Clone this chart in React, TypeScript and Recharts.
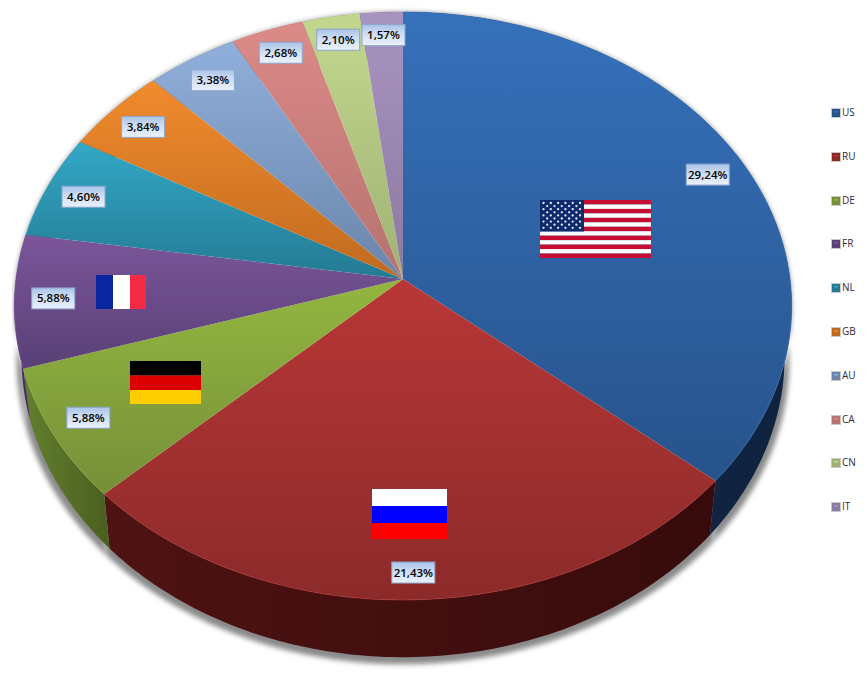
import React from 'react';
import { PieChart, Pie, Legend } from 'recharts';

const countries = ['US', 'RU', 'DE', 'FR', 'NL', 'GB', 'AU', 'CA', 'CN', 'IT'];
const shares = [29.24, 21.43, 5.88, 5.88, 4.6, 3.84, 3.38, 2.68, 2.1, 1.57];

const topLight = ['#3671bb', '#b93737', '#93b740', '#7b569a', '#33a8c6', '#f18b2d', '#90afdb', '#dc8a87', '#c3d88e', '#a994c1'];
const topDark = ['#27538b', '#8c2a2a', '#768f38', '#594076', '#247a93', '#c06a20', '#6a85aa', '#b57270', '#9fb274', '#8b7a9f'];
const sideLight = ['#13294a', '#4f1313', '#62802e', '#4f3270', '#1c5f73', '#8a4b14', '#4b5f7c', '#834f4e', '#6f7c50', '#5f5270'];
const sideDark = ['#0f2340', '#370b0b', '#4a5f20', '#3f2859', '#164d5d', '#6f3c10', '#3c4c63', '#693f3e', '#596340', '#4c4259'];

const chartData = countries.map((name, i) => ({ name, value: shares[i] }));

// the pie is seen in perspective, so sectors go through this instead of a plain circle
const K = 0.0918;
const project = (deg: number, cx: number, cy: number, a: number, level: 'top' | 'bottom' | 'shadow') => {
  const rad = (deg * Math.PI) / 180;
  const u = Math.cos(rad);
  const v = Math.sin(rad);
  const w = 1 + K * v;
  if (level === 'top') return [cx + (a * u) / w, cy - (a * 0.7532 * v) / w];
  if (level === 'bottom') return [cx + (a * 0.982 * u) / w, cy + 49 - (a * 0.7726 * v) / w];
  return [cx + (a * 0.994 * u) / w, cy + 54 - (a * 0.7775 * v) / w];
};

const arcPoints = (from: number, to: number, cx: number, cy: number, a: number, level: 'top' | 'bottom' | 'shadow') => {
  const steps = Math.max(2, Math.ceil(Math.abs(to - from)));
  const pts: number[][] = [];
  for (let i = 0; i <= steps; i++) pts.push(project(from + ((to - from) * i) / steps, cx, cy, a, level));
  return pts;
};

const toPath = (pts: number[][]) => pts.map((p, i) => `${i ? 'L' : 'M'}${p[0].toFixed(2)},${p[1].toFixed(2)}`).join(' ');

const TopSector = (props: any) => {
  const { cx, cy, outerRadius, startAngle, endAngle, index } = props;
  const arc = arcPoints(startAngle, endAngle, cx, cy, outerRadius, 'top');
  return (
    <g>
      <path d={`M${cx},${cy} ${toPath(arc).replace('M', 'L')} Z`} fill={`url(#top${index})`} />
      <path d={toPath(arc)} fill="none" stroke={topLight[index]} strokeWidth={1} strokeOpacity={0.6} />
    </g>
  );
};

const SideSector = (props: any) => {
  const { cx, cy, outerRadius, startAngle, endAngle, index } = props;
  const upper = arcPoints(startAngle, endAngle, cx, cy, outerRadius, 'top');
  const lower = arcPoints(endAngle, startAngle, cx, cy, outerRadius, 'bottom');
  return <path d={`${toPath(upper)} ${toPath(lower).replace('M', 'L')} Z`} fill={`url(#side${index})`} />;
};

const ShadowSector = (props: any) => {
  const { cx, cy, outerRadius, startAngle, endAngle } = props;
  const upper = arcPoints(startAngle, endAngle, cx, cy, outerRadius, 'top');
  const lower = arcPoints(endAngle, startAngle, cx, cy, outerRadius, 'shadow');
  return <path d={`${toPath(upper)} ${toPath(lower).replace('M', 'L')} Z`} fill="#8a8a8a" filter="url(#soft)" />;
};

const renderLabel = (props: any) => {
  const { cx, cy, outerRadius, midAngle, value } = props;
  const rad = (midAngle * Math.PI) / 180;
  const v = Math.sin(rad);
  const w = 1 + K * v;
  const x = cx + (outerRadius * 0.9 * Math.cos(rad)) / w;
  const y = cy - (outerRadius * 0.7532 * (0.885 + 0.03 * v * v) * v) / w;
  const text = value.toFixed(2).replace('.', ',') + '%';
  return (
    <g>
      <rect x={x - 21.5} y={y - 10.5} width={43} height={21} fill="url(#labelBg)" stroke="#8ea6cb" strokeWidth={1} />
      <text x={x} y={y + 4} textAnchor="middle" fontFamily="'Open Sans', sans-serif" fontWeight={600} fontSize={11.5} fill="#000">
        {text}
      </text>
    </g>
  );
};

const UsFlag = () => {
  const stripes = Array.from({ length: 13 }, (_, i) => i);
  const stars: number[][] = [];
  for (let row = 0; row < 9; row++) {
    const n = row % 2 === 0 ? 6 : 5;
    for (let c = 0; c < n; c++) stars.push([row % 2 === 0 ? 543.5 + c * 7.3 : 547.2 + c * 7.3, 203 + row * 3.1]);
  }
  return (
    <g>
      {stripes.map(i => (
        <rect key={i} x={540} y={200 + (i * 58) / 13} width={111} height={58 / 13} fill={i % 2 === 0 ? '#c60c30' : '#fff'} />
      ))}
      <rect x={540} y={200} width={44} height={31.5} fill="#0d2a6e" />
      {stars.map((s, i) => (
        <circle key={i} cx={s[0]} cy={s[1]} r={1.15} fill="#e8ecf5" />
      ))}
    </g>
  );
};

// pie sectors sit in a layer above plain chart children, so the flags get their own svg on top
const Flags = () => (
  <svg width={868} height={681} style={{ position: 'absolute', left: 0, top: 0, pointerEvents: 'none' }}>
    <UsFlag />
    <rect x={372} y={489} width={75} height={17} fill="#fff" />
    <rect x={372} y={506} width={75} height={17} fill="#0000ff" />
    <rect x={372} y={523} width={75} height={16} fill="#ff0000" />
    <rect x={130} y={361} width={71} height={14.5} fill="#000" />
    <rect x={130} y={375.5} width={71} height={14.5} fill="#dd0000" />
    <rect x={130} y={390} width={71} height={14} fill="#ffce00" />
    <rect x={96} y={275} width={17} height={34} fill="#0a25a0" />
    <rect x={113} y={275} width={17} height={34} fill="#fff" />
    <rect x={130} y={275} width={16} height={34} fill="#f52b45" />
  </svg>
);

const renderLegend = () => (
  <div style={{ width: 37 }}>
    {countries.map((name, i) => (
      <div key={name} style={{ height: 43.8, display: 'flex', alignItems: 'flex-start' }}>
        <svg width={10} height={10} style={{ marginTop: 2, marginRight: 1 }}>
          <rect x={0.5} y={0.5} width={9} height={9} fill={topDark[i]} stroke="#c8c8c8" />
          <path d="M2.5,3 L7.5,3 L5,5.5 Z" fill={topLight[i]} />
        </svg>
        <span style={{ fontFamily: "'Open Sans', sans-serif", fontSize: 10, lineHeight: '13px', color: '#2b2b3a' }}>{name}</span>
      </div>
    ))}
  </div>
);

export default function App() {
  return (
    <div style={{ position: 'absolute', left: 0, top: 0, width: 868, height: 681, background: '#fff' }}>
      <PieChart width={868} height={681} margin={{ top: 0, right: 0, bottom: 0, left: 0 }}>
        <defs>
          {countries.map((name, i) => (
            <React.Fragment key={name}>
              <linearGradient id={`top${i}`} x1="0" y1="0" x2="0" y2="1">
                <stop offset="0%" stopColor={topLight[i]} />
                <stop offset="100%" stopColor={topDark[i]} />
              </linearGradient>
              <linearGradient id={`side${i}`} x1="0" y1="0" x2="1" y2="0">
                <stop offset="0%" stopColor={sideLight[i]} />
                <stop offset="100%" stopColor={sideDark[i]} />
              </linearGradient>
            </React.Fragment>
          ))}
          <linearGradient id="labelBg" x1="0" y1="0" x2="0" y2="1">
            <stop offset="0%" stopColor="#a9c3e9" />
            <stop offset="45%" stopColor="#cfdef4" />
            <stop offset="100%" stopColor="#eaf1fb" />
          </linearGradient>
          <filter id="soft" x="-10%" y="-10%" width="120%" height="120%">
            <feGaussianBlur stdDeviation="2.5" />
          </filter>
        </defs>
        <Pie data={chartData} dataKey="value" nameKey="name" cx={403} cy={279} outerRadius={387} startAngle={90} endAngle={-270} stroke="none" legendType="none" shape={ShadowSector} isAnimationActive={false} />
        <Pie data={chartData} dataKey="value" nameKey="name" cx={403} cy={279} outerRadius={387} startAngle={90} endAngle={-270} stroke="none" legendType="none" shape={SideSector} isAnimationActive={false} />
        <Pie data={chartData} dataKey="value" nameKey="name" cx={403} cy={279} outerRadius={387} startAngle={90} endAngle={-270} stroke="none" shape={TopSector} label={renderLabel} labelLine={false} isAnimationActive={false} />
        <Legend content={renderLegend} layout="vertical" wrapperStyle={{ position: 'absolute', left: 831, top: 106, width: 37, bottom: 'auto' }} />
      </PieChart>
      <Flags />
    </div>
  );
}
